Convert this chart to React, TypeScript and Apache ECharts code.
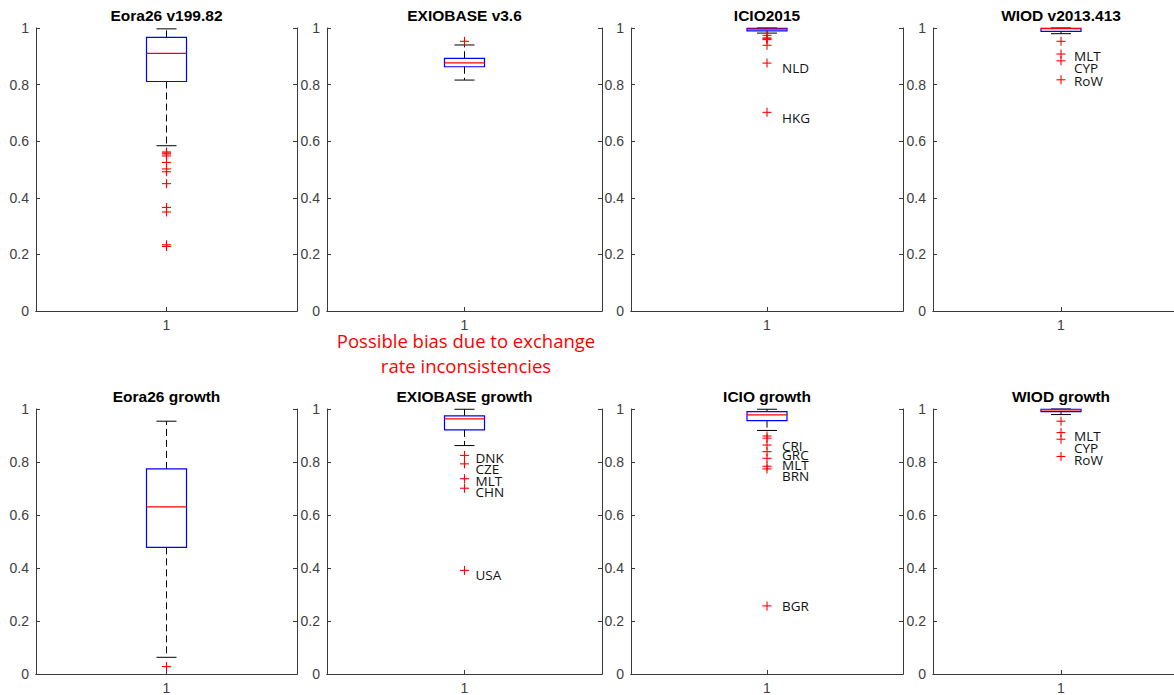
import { useEffect, useRef } from "react";
import * as echarts from "echarts";

// Panel titles, row by row
const panelTitles = [
  "Eora26 v199.82",
  "EXIOBASE v3.6",
  "ICIO2015",
  "WIOD v2013.413",
  "Eora26 growth",
  "EXIOBASE growth",
  "ICIO growth",
  "WIOD growth",
];

const categories = ["1"];

// Box summaries: [lower whisker, Q1, median, Q3, upper whisker]
const eoraLevelBox = [0.584, 0.811, 0.91, 0.967, 0.997];
const exioLevelBox = [0.816, 0.863, 0.877, 0.893, 0.94];
const icioLevelBox = [0.982, 0.99, 0.996, 0.999, 1.0];
const wiodLevelBox = [0.98, 0.988, 0.998, 0.999, 1.0];
const eoraGrowthBox = [0.063, 0.478, 0.631, 0.774, 0.954];
const exioGrowthBox = [0.862, 0.921, 0.963, 0.974, 0.999];
const icioGrowthBox = [0.919, 0.956, 0.978, 0.99, 0.999];
const wiodGrowthBox = [0.979, 0.99, 0.997, 0.999, 1.0];

// Outlying values
const eoraLevelOutliers = [0.562, 0.558, 0.555, 0.548, 0.525, 0.502, 0.492, 0.45, 0.366, 0.35, 0.234, 0.228];
const exioLevelOutliers = [0.953];
const icioLevelOutliers = [0.974, 0.965, 0.962, 0.959, 0.939, 0.876, 0.702];
const wiodLevelOutliers = [0.953, 0.908, 0.884, 0.817];
const eoraGrowthOutliers = [0.028];
const exioGrowthOutliers = [0.825, 0.793, 0.737, 0.701, 0.391];
const icioGrowthOutliers = [0.898, 0.89, 0.864, 0.839, 0.814, 0.784, 0.774, 0.257];
const wiodGrowthOutliers = [0.954, 0.911, 0.886, 0.821];

// Country labels and the value at which each is placed
const icioLevelLabels = ["NLD", "HKG"];
const icioLevelLabelY = [0.86, 0.683];
const wiodLevelLabels = ["MLT", "CYP", "RoW"];
const wiodLevelLabelY = [0.902, 0.86, 0.814];
const exioGrowthLabels = ["DNK", "CZE", "MLT", "CHN", "USA"];
const exioGrowthLabelY = [0.815, 0.774, 0.729, 0.685, 0.375];
const icioGrowthLabels = ["CRI", "GRC", "MLT", "BRN", "BGR"];
const icioGrowthLabelY = [0.86, 0.826, 0.789, 0.748, 0.256];
const wiodGrowthLabels = ["MLT", "CYP", "RoW"];
const wiodGrowthLabelY = [0.897, 0.852, 0.808];

const boxes = [eoraLevelBox, exioLevelBox, icioLevelBox, wiodLevelBox, eoraGrowthBox, exioGrowthBox, icioGrowthBox, wiodGrowthBox];
const outliers = [eoraLevelOutliers, exioLevelOutliers, icioLevelOutliers, wiodLevelOutliers, eoraGrowthOutliers, exioGrowthOutliers, icioGrowthOutliers, wiodGrowthOutliers];
const labels: (string[] | null)[] = [null, null, icioLevelLabels, wiodLevelLabels, null, exioGrowthLabels, icioGrowthLabels, wiodGrowthLabels];
const labelY: (number[] | null)[] = [null, null, icioLevelLabelY, wiodLevelLabelY, null, exioGrowthLabelY, icioGrowthLabelY, wiodGrowthLabelY];

const annotationLines = ["Possible bias due to exchange", "rate inconsistencies"];

// Layout (pixels); the last column runs past the visible edge
const VIEW_W = 1174;
const VIEW_H = 695;
const CANVAS_W = 1200;
const colLeft = [36, 327, 631, 933];
const colWidth = [261, 275, 272, 256];
const rowTop = [28, 409];
const rowHeight = [283, 269];
const labelOffset = [0, 0, 15, 13, 0, 11, 15, 13];

const FRAME = "#3a3a3a";
const TICKTEXT = "#404040";

export default function App() {
  const ref = useRef<HTMLDivElement>(null);

  useEffect(() => {
    document.body.style.margin = "0";
    if (!ref.current) return;
    const chart = echarts.init(ref.current, undefined, { renderer: "svg" });

    const grids: any[] = [];
    const xAxes: any[] = [];
    const yAxes: any[] = [];
    const series: any[] = [];
    const graphics: any[] = [];

    for (let i = 0; i < 8; i++) {
      const r = Math.floor(i / 4);
      const c = i % 4;
      grids.push({ left: colLeft[c], top: rowTop[r], width: colWidth[c], height: rowHeight[r] });

      const xb = xAxes.length;
      xAxes.push({
        type: "category",
        gridIndex: i,
        data: categories,
        position: "bottom",
        axisLine: { show: true, lineStyle: { color: FRAME, width: 1 } },
        axisTick: { show: true, inside: true, length: 4, alignWithLabel: true, lineStyle: { color: FRAME } },
        axisLabel: { color: TICKTEXT, fontSize: 14, fontFamily: "Liberation Sans", margin: 7 },
        splitLine: { show: false },
      });
      xAxes.push({
        type: "category",
        gridIndex: i,
        data: categories,
        position: "top",
        axisLine: { show: true, lineStyle: { color: FRAME, width: 1 } },
        axisTick: { show: false },
        axisLabel: { show: false },
        splitLine: { show: false },
      });
      const yl = yAxes.length;
      yAxes.push({
        type: "value",
        gridIndex: i,
        min: 0,
        max: 1,
        interval: 0.2,
        position: "left",
        axisLine: { show: true, lineStyle: { color: FRAME, width: 1 } },
        axisTick: { show: true, inside: true, length: 4, lineStyle: { color: FRAME } },
        axisLabel: { color: TICKTEXT, fontSize: 14, fontFamily: "Liberation Sans", margin: 7 },
        splitLine: { show: false },
      });
      yAxes.push({
        type: "value",
        gridIndex: i,
        min: 0,
        max: 1,
        interval: 0.2,
        position: "right",
        axisLine: { show: true, lineStyle: { color: FRAME, width: 1 } },
        axisTick: { show: true, inside: true, length: 4, lineStyle: { color: FRAME } },
        axisLabel: { show: false },
        splitLine: { show: false },
      });

      // box, whiskers and median
      series.push({
        type: "custom",
        xAxisIndex: xb,
        yAxisIndex: yl,
        data: [[0, ...boxes[i]]],
        renderItem: (_p: any, api: any) => {
          const lw = api.coord([0, api.value(1)]);
          const q1 = api.coord([0, api.value(2)]);
          const md = api.coord([0, api.value(3)]);
          const q3 = api.coord([0, api.value(4)]);
          const uw = api.coord([0, api.value(5)]);
          const cx = q1[0];
          const hw = 20;
          const cap = 10;
          const dash = { stroke: "#000", lineWidth: 1, lineDash: [7, 4] };
          const solid = { stroke: "#000", lineWidth: 1 };
          return {
            type: "group",
            children: [
              { type: "line", shape: { x1: cx, y1: q1[1], x2: cx, y2: lw[1] }, style: dash },
              { type: "line", shape: { x1: cx, y1: q3[1], x2: cx, y2: uw[1] }, style: dash },
              { type: "line", shape: { x1: cx - cap, y1: lw[1], x2: cx + cap, y2: lw[1] }, style: solid },
              { type: "line", shape: { x1: cx - cap, y1: uw[1], x2: cx + cap, y2: uw[1] }, style: solid },
              {
                type: "rect",
                shape: { x: cx - hw, y: q3[1], width: hw * 2, height: q1[1] - q3[1] },
                style: { fill: "none", stroke: "#0000ff", lineWidth: 1.2 },
              },
              { type: "line", shape: { x1: cx - hw, y1: md[1], x2: cx + hw, y2: md[1] }, style: { stroke: "#ff0000", lineWidth: 1.2 } },
            ],
          };
        },
        silent: true,
        z: 2,
      });

      // outliers as red plus marks
      series.push({
        type: "custom",
        xAxisIndex: xb,
        yAxisIndex: yl,
        data: outliers[i].map((v) => [0, v]),
        renderItem: (_p: any, api: any) => {
          const p = api.coord([api.value(0), api.value(1)]);
          const a = 4.5;
          const st = { stroke: "#ff0000", lineWidth: 1.1 };
          return {
            type: "group",
            children: [
              { type: "line", shape: { x1: p[0] - a, y1: p[1], x2: p[0] + a, y2: p[1] }, style: st },
              { type: "line", shape: { x1: p[0], y1: p[1] - a, x2: p[0], y2: p[1] + a }, style: st },
            ],
          };
        },
        silent: true,
        z: 3,
      });

      const names = labels[i];
      const ys = labelY[i];
      if (names && ys) {
        const off = labelOffset[i];
        series.push({
          type: "custom",
          xAxisIndex: xb,
          yAxisIndex: yl,
          data: ys.map((v) => [0, v]),
          renderItem: (params: any, api: any) => {
            const p = api.coord([api.value(0), api.value(1)]);
            return {
              type: "text",
              x: p[0] + off,
              y: p[1],
              style: {
                text: names[params.dataIndex],
                fill: "#111",
                font: "13.5px 'Open Sans'",
                align: "left",
                verticalAlign: "middle",
              },
            };
          },
          silent: true,
          z: 4,
        });
      }

      graphics.push({
        type: "text",
        x: colLeft[c] + colWidth[c] / 2,
        y: r === 0 ? 15 : 396,
        style: {
          text: panelTitles[i],
          fill: "#000",
          font: "bold 15.5px 'Liberation Sans'",
          align: "center",
          verticalAlign: "middle",
        },
      });
    }

    annotationLines.forEach((t, k) => {
      graphics.push({
        type: "text",
        x: 466,
        y: 340 + k * 25,
        style: {
          text: t,
          fill: "#ff0000",
          font: "18.5px 'Open Sans'",
          align: "center",
          verticalAlign: "middle",
        },
      });
    });

    chart.setOption({
      animation: false,
      backgroundColor: "#fff",
      grid: grids,
      xAxis: xAxes,
      yAxis: yAxes,
      series,
      graphic: graphics,
    });

    return () => chart.dispose();
  }, []);

  return (
    <div style={{ width: VIEW_W, height: VIEW_H, overflow: "hidden", position: "relative" }}>
      <div ref={ref} style={{ width: CANVAS_W, height: VIEW_H }} />
    </div>
  );
}
